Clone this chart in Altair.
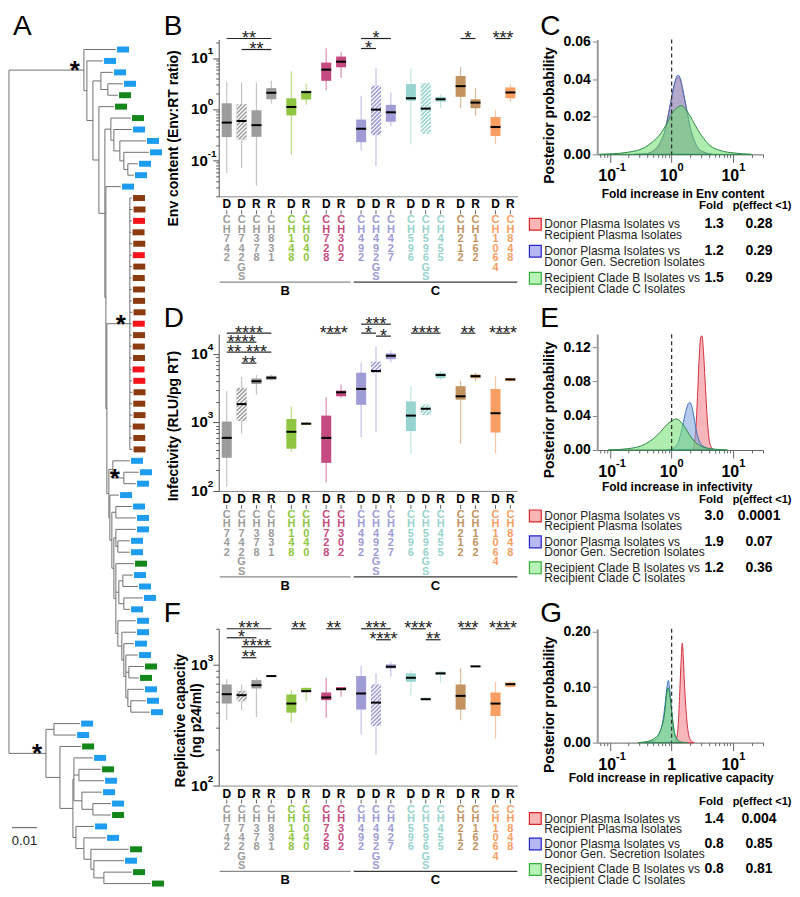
import math
import altair as alt
import pandas as pd

FONT = "Liberation Sans"
ONE = pd.DataFrame({"k": [0]})

# ===================== Panel A : phylogeny (branch lengths in 0.001 subst./site) =====================
def leaf(l, c):
    return {"len": l, "color": c}

def node(l, *kids, star=False):
    return {"len": l, "kids": list(kids), "star": star}

LEAF_CODES = ["b", "g", "n", "r"]
LEAF_COLORS = ["#1e9cf0", "#14871b", "#8c3a10", "#f5141c"]
BROWN_CLADE_COLORS = "nnrnnrnnnnnrnnnrrnnnnnn"
BROWN_TIP_LEN = [0.8, 1.0, 0.8, 0.6, 0.9, 0.7, 0.9, 0.7, 0.8, 0.8, 1.0, 0.7,
                 0.8, 0.7, 0.8, 0.6, 0.9, 1.0, 0.9, 1.0, 0.7, 0.9, 1.0]

CL_7_12 = node(2.4, leaf(8.0, "g"), node(1.2, leaf(7.2, "b"), node(2.4, leaf(10.4, "b"),
               node(1.6, leaf(10.0, "b"), node(1.6, leaf(4.0, "b"), leaf(2.4, "b"))))))
BROWN = node(9.2, *[leaf(l, c) for l, c in zip(BROWN_TIP_LEN, BROWN_CLADE_COLORS)], star=True)
CL_37_39 = node(1.6, leaf(6.8, "b"), node(4.4, leaf(6.0, "b"), leaf(4.8, "b"), star=True))
CL_43_45 = node(0.8, leaf(8.0, "b"), node(0.8, leaf(4.8, "b"), leaf(4.8, "b")))
CL_47_50 = node(1.2, node(1.6, leaf(4.0, "b"), leaf(6.0, "b")), node(2.0, leaf(7.6, "b"), leaf(2.4, "b")))
CL_54_59 = node(0.8, leaf(4.8, "b"), node(1.2, leaf(6.0, "g"), leaf(4.0, "g")),
                node(0.8, leaf(6.4, "b"), node(1.2, leaf(6.0, "b"), leaf(7.6, "b"))))
CL_51_59 = node(0.8, leaf(7.2, "b"), node(1.6, leaf(5.6, "b"), node(0.8, leaf(4.0, "b"), CL_54_59)))
CL_46_59 = node(0.8, leaf(7.2, "g"), CL_47_50, CL_51_59)
CL_43_59 = node(0.8, CL_43_45, CL_46_59)
CL_41_59 = node(0.8, node(1.6, leaf(6.4, "b"), leaf(8.0, "b")), CL_43_59)
CL_40_59 = node(0.4, leaf(3.6, "b"), CL_41_59)
REST = node(0.8, CL_37_39, CL_40_59)
CL_14_59 = node(0.4, BROWN, REST)
CL_13_59 = node(0.4, leaf(6.0, "b"), CL_14_59)
CL_7_59 = node(2.4, CL_7_12, CL_13_59)
CL_6_59 = node(2.4, leaf(6.0, "g"), CL_7_59)
CL_3_5 = node(3.2, leaf(4.8, "b"), node(2.8, leaf(6.0, "b"), leaf(4.0, "g")))
CL_3_59 = node(2.4, CL_3_5, CL_6_59)
CL_2_59 = node(1.2, leaf(6.4, "b"), CL_3_59)
UPPER = node(30.0, leaf(12.8, "b"), CL_2_59, star=True)

CL_60_61 = node(3.2, leaf(10.4, "b"), leaf(8.8, "b"))
CL_63_68 = node(0.4, leaf(7.6, "b"), node(2.0, leaf(8.8, "g"), leaf(10.0, "b")),
                node(3.2, leaf(8.0, "b"), node(4.4, leaf(7.2, "b"), leaf(7.2, "g"))))
CL_69_74 = node(1.2, leaf(7.2, "b"), node(3.2, leaf(8.8, "b"), node(2.8, leaf(15.2, "g"),
                node(1.2, leaf(12.0, "b"), node(4.0, leaf(11.2, "g"), leaf(18.8, "g"))))))
CL_62_74 = node(5.6, leaf(8.4, "g"), node(5.2, CL_63_68, CL_69_74))
LOWER = node(14.8, CL_60_61, CL_62_74, star=True)
TREE = node(0.0, UPPER, LOWER)
SCALE_BAR = 10.0  # = 0.01

# ===================== Panels B, D, F : box plots =====================
BOX_LABELS = ["CH742", "CH742GS", "CH378", "CH831", "CH148", "CH040", "CH728", "CH302",
              "CH492", "CH492GS", "CH427", "CH596", "CH596GS", "CH455", "CH212", "CH162",
              "CH1064", "CH848"]
BOX_ROLES = ["D", "D", "R", "R", "D", "R", "D", "R", "D", "D", "R", "D", "D", "R", "D", "R", "D", "R"]
BOX_GROUP = [0, 0, 0, 0, 1, 1, 2, 2, 3, 3, 3, 4, 4, 4, 5, 5, 6, 6]
BOX_HATCHED = [0, 1, 0, 0, 0, 0, 0, 0, 0, 1, 0, 0, 1, 0, 0, 0, 0, 0]
GROUP_NAMES = ["CH742", "CH148", "CH728", "CH492", "CH596", "CH212", "CH1064"]
GROUP_COLORS = ["#9c9c9c", "#8ec641", "#c64a82", "#9e9bd6", "#98d4cf", "#c2935f", "#f99e62"]
CLADES = ["B", "C"]

ENV_LO = [0.057, 0.071, 0.032, 1.29, 0.13, 1.22, 2.36, 4.07, 0.156, 0.077, 0.47, 0.205, 0.33, 1.05, 1.03, 0.73, 0.21, 1.35]
ENV_Q1 = [0.286, 0.257, 0.29, 1.57, 0.76, 1.55, 3.6, 6.6, 0.228, 0.313, 0.572, 1.46, 0.332, 1.41, 1.75, 1.05, 0.30, 1.64]
ENV_MED = [0.55, 0.59, 0.49, 2.1, 1.11, 2.16, 5.94, 8.5, 0.417, 0.985, 0.873, 1.64, 1.03, 1.57, 2.83, 1.35, 0.45, 2.13]
ENV_Q3 = [1.31, 1.25, 0.955, 2.59, 1.64, 2.3, 8.15, 10.7, 0.63, 2.88, 1.22, 3.1, 3.2, 1.75, 4.46, 1.57, 0.706, 2.67]
ENV_HI = [3.45, 3.35, 3.35, 3.6, 5.5, 3.2, 15.6, 13.0, 1.83, 6.3, 2.13, 6.3, 3.3, 1.97, 6.8, 2.59, 0.955, 3.1]

INF_LO = [115, 690, 2550, 4100, 369, 900, 133, 2280, 616, 720, 7500, 349, 1250, 4130, 491, 4020, 349, 3920]
INF_Q1 = [305, 1050, 3650, 4200, 414, 930, 257, 2410, 1810, 5330, 8400, 747, 1290, 4430, 2150, 4430, 714, 4020]
INF_MED = [596, 1855, 4000, 4500, 731, 960, 596, 2760, 3090, 5650, 9420, 1260, 1585, 4930, 2410, 4750, 1365, 4260]
INF_Q3 = [1030, 3200, 4400, 4800, 1125, 990, 1260, 2920, 5330, 7670, 10200, 2030, 1810, 5330, 3390, 5030, 3090, 4430]
INF_HI = [2860, 4600, 4930, 5000, 1714, 1030, 2330, 3590, 7500, 12800, 11170, 3390, 1900, 5650, 4020, 5330, 4750, 4480]

REP_LO = [348, 422, 371, 800, 333, 501, 364, 545, 264, 180, 800, 562, 505, 717, 348, 965, 245, 653]
REP_Q1 = [479, 501, 639, 805, 403, 600, 511, 619, 427, 312, 938, 726, 510, 828, 427, 968, 378, 659]
REP_MED = [573, 562, 681, 810, 479, 607, 538, 631, 581, 488, 968, 784, 521, 853, 555, 975, 479, 694]
REP_Q3 = [690, 611, 750, 815, 570, 647, 592, 656, 810, 690, 1013, 853, 535, 880, 690, 980, 592, 717]
REP_HI = [764, 690, 784, 820, 619, 647, 784, 659, 987, 853, 1066, 891, 540, 891, 950, 985, 726, 734]

# significance bars: (box i, box j, stars, pixel offset from plot top)
SIG_B = [(0, 3, "**", -1), (1, 3, "**", 10), (8, 10, "*", -1), (8, 9, "*", 9), (14, 15, "*", -1), (16, 17, "***", -1)]
SIG_D = [(0, 3, "****", -1), (0, 2, "****", 8), (0, 1, "**", 18), (1, 3, "***", 18), (1, 2, "**", 29),
         (6, 7, "****", -1), (8, 10, "***", -10), (8, 9, "*", -1), (9, 10, "*", 2), (11, 13, "****", -1),
         (14, 15, "**", -1), (16, 17, "****", -1)]
SIG_F = [(0, 3, "***", 0), (0, 2, "*", 9), (1, 3, "****", 18), (1, 2, "**", 29), (4, 5, "**", 0), (6, 7, "**", 0),
         (8, 10, "***", 0), (9, 10, "****", 11), (11, 12, "****", 0), (12, 13, "**", 11), (14, 15, "***", 0),
         (16, 17, "****", 0)]

# ===================== Panels C, E, G : posterior densities =====================
C_RED_X = [0.259, 0.376, 0.513, 0.656, 0.791, 0.895, 1.01, 1.146, 1.265, 1.38, 1.563, 1.767, 2.0, 2.264, 2.725, 3.49, 4.47]
C_RED_Y = [0, 0.0003, 0.0021, 0.0064, 0.0134, 0.0221, 0.0308, 0.0386, 0.0412, 0.0395, 0.0317, 0.0230, 0.0143, 0.0082, 0.0030, 0.0009, 0]
C_BLUE_X = [0.26, 0.38, 0.52, 0.66, 0.79, 0.90, 1.01, 1.15, 1.27, 1.39, 1.57, 1.77, 2.0, 2.27, 2.72, 3.5, 4.5]
C_BLUE_Y = [0, 0.0003, 0.0020, 0.0062, 0.0132, 0.0222, 0.0312, 0.0394, 0.0421, 0.0402, 0.0320, 0.0232, 0.0145, 0.0084, 0.0031, 0.0009, 0]
C_GREEN_X = [0.0665, 0.109, 0.202, 0.332, 0.482, 0.656, 0.841, 1.01, 1.219, 1.432, 1.661, 2.0, 2.41, 3.08, 4.2, 6.1, 10.6, 19.8]
C_GREEN_Y = [0, 0.0003, 0.0012, 0.003, 0.0064, 0.0108, 0.0165, 0.0217, 0.0247, 0.0259, 0.0242, 0.0203, 0.0155, 0.0099, 0.0047, 0.0021, 0.0007, 0]

E_RED_X = [2.18, 2.32, 2.47, 2.63, 2.79, 2.97, 3.12, 3.28, 3.49, 3.71, 3.95, 4.31, 4.88]
E_RED_Y = [0, 0.0065, 0.024, 0.062, 0.105, 0.1315, 0.133, 0.116, 0.0815, 0.047, 0.02, 0.0046, 0]
E_BLUE_X = [0.862, 1.104, 1.33, 1.504, 1.70, 1.858, 1.976, 2.128, 2.32, 2.56, 2.90, 3.58, 4.88]
E_BLUE_Y = [0, 0.0027, 0.0123, 0.0277, 0.045, 0.0538, 0.0554, 0.0508, 0.0373, 0.02, 0.0085, 0.0027, 0]
E_GREEN_X = [0.0929, 0.195, 0.362, 0.525, 0.673, 0.862, 1.038, 1.175, 1.38, 1.60, 1.93, 2.32, 2.97, 4.31, 8.0]
E_GREEN_Y = [0, 0.0015, 0.0065, 0.0142, 0.0219, 0.0304, 0.0346, 0.0362, 0.0335, 0.0277, 0.0181, 0.0104, 0.0046, 0.0015, 0]

G_RED_X = [1.104, 1.219, 1.297, 1.362, 1.432, 1.486, 1.542, 1.621, 1.725, 1.856, 2.05, 2.32]
G_RED_Y = [0, 0.010, 0.043, 0.097, 0.151, 0.179, 0.157, 0.103, 0.055, 0.019, 0.004, 0]
G_BLUE_X = [0.362, 0.525, 0.632, 0.716, 0.780, 0.841, 0.883, 0.929, 0.975, 1.038, 1.104, 1.25, 1.415]
G_BLUE_Y = [0, 0.004, 0.016, 0.037, 0.067, 0.1, 0.112, 0.097, 0.070, 0.037, 0.016, 0.004, 0]
G_GREEN_X = [0.283, 0.41, 0.559, 0.673, 0.762, 0.82, 0.873, 0.929, 1.0, 1.077, 1.175, 1.415, 1.81]
G_GREEN_Y = [0, 0.0024, 0.010, 0.025, 0.049, 0.082, 0.0988, 0.088, 0.058, 0.028, 0.010, 0.0012, 0]

VLINE = [1.0]
LEG_TEXT = [["Donor Plasma Isolates vs", "Recipient Plasma Isolates"],
            ["Donor Plasma Isolates vs", "Donor Gen. Secretion Isolates"],
            ["Recipient Clade B Isolates vs", "Recipient Clade C Isolates"]]
FOLD_C, P_C = ["1.3", "1.2", "1.5"], ["0.28", "0.29", "0.29"]
FOLD_E, P_E = ["3.0", "1.9", "1.2"], ["0.0001", "0.07", "0.36"]
FOLD_G, P_G = ["1.4", "0.8", "0.8"], ["0.004", "0.85", "0.81"]

# ===================== styling / layout =====================
SERIES = ["red", "blue", "green"]
FILL = {"red": "#f07a84", "blue": "#7a9fdc", "green": "#6cde6c"}
STROKE = {"red": "#d42f3d", "blue": "#3c74c2", "green": "#2b8a48"}
LEG_FILL = {"red": "#f9b6b6", "blue": "#b7b7f2", "green": "#b7f2b7"}
LEG_STROKE = {"red": "#e02424", "blue": "#2424c8", "green": "#34b034"}

BOX_W, BOX_H = 299, 157
DENS_W = 166
GROUP_GAP = 1.35
TREE_W = 130
COL_GAP = 80
ROW_GAP = 138
LEAF_PX = 11.44
PX_PER_UNIT = 2.5
LETTER_Y1 = -27
MAJOR_TEST = "abs(log(datum.value)/LN10 - round(log(datum.value)/LN10)) < 0.001"


def slot_positions():
    pos, out, prev = 0.0, [], None
    for g in BOX_GROUP:
        if prev is not None:
            pos += 1.0 if g == prev else GROUP_GAP
        out.append(pos)
        prev = g
    return out


SLOTS = slot_positions()
X_DOM = [SLOTS[0] - 0.54, SLOTS[-1] + 0.47]
PXU = BOX_W / (X_DOM[1] - X_DOM[0])
HALF_PX = 5.0
HW = HALF_PX / PXU


def txt(text, x, y, size, weight="normal", align="center", baseline="middle", color="#111", angle=None, lh=None):
    kw = dict(text=text, font=FONT, fontSize=size, fontWeight=weight, align=align, baseline=baseline, color=color)
    if angle is not None:
        kw["angle"] = angle
    if lh is not None:
        kw["lineHeight"] = lh
    return alt.Chart(ONE).mark_text(**kw).encode(x=alt.value(x), y=alt.value(y))


def log_ticks(lo, hi):
    majors, minors = [], []
    for e in range(math.floor(math.log10(lo)), math.ceil(math.log10(hi)) + 1):
        for m in range(1, 10):
            v = float(f"{m}e{e}")
            if lo * 0.999 <= v <= hi * 1.001:
                (majors if m == 1 else minors).append(v)
    return majors, minors


def hatch_lines(slot, q1v, q3v, dec_px):
    H = (math.log10(q3v) - math.log10(q1v)) * dec_px
    W = 2 * HALF_PX
    out = []
    c = -W + 2.0
    while c < H:
        x0 = max(0.0, -c)
        x1 = min(W, H - c)
        if x1 - x0 > 0.5:
            out.append({"x": slot + (x0 - W / 2) / PXU, "x2": slot + (x1 - W / 2) / PXU,
                        "y": q1v * 10 ** ((x0 + c) / dec_px), "y2": q1v * 10 ** ((x1 + c) / dec_px)})
        c += 4.0
    return out


def tree_panel():
    hs, vs, lv, st = [], [], [], []
    counter = [0]

    def walk(nd, px):
        x = px + nd["len"]
        if "color" in nd:
            y = float(counter[0])
            counter[0] += 1
            lv.append({"x": x, "y": y, "c": nd["color"]})
        else:
            ys = [walk(k, x) for k in nd["kids"]]
            y = (ys[0] + ys[-1]) / 2
            vs.append({"x": x, "y": ys[0], "y2": ys[-1]})
            if nd.get("star"):
                st.append({"x": x, "y": y})
        if nd["len"] > 0:
            hs.append({"x": px, "x2": x, "y": y})
        return y

    walk(TREE, 0.0)
    # the tree is taller than its grid cell: the scale keeps 11.44 px per leaf and marks overflow downward
    xs = alt.Scale(domain=[0, TREE_W / PX_PER_UNIT], nice=False, zero=False)
    y0 = -10.0 / LEAF_PX
    ys = alt.Scale(domain=[y0, y0 + BOX_H / LEAF_PX], reverse=True, nice=False, zero=False)
    X = lambda f: alt.X(f, type="quantitative", scale=xs, axis=None)
    Y = lambda f: alt.Y(f, type="quantitative", scale=ys, axis=None)
    layers = [
        alt.Chart(pd.DataFrame(hs)).mark_rule(color="#707070", strokeWidth=1).encode(x=X("x"), x2="x2", y=Y("y")),
        alt.Chart(pd.DataFrame(vs)).mark_rule(color="#707070", strokeWidth=1).encode(x=X("x"), y=Y("y"), y2="y2"),
        alt.Chart(pd.DataFrame(lv)).mark_point(shape="M0.2,-0.5L2.2,-0.5L2.2,0.5L0.2,0.5Z", size=144, filled=True,
                                               opacity=1, strokeWidth=0).encode(
            x=X("x"), y=Y("y"),
            color=alt.Color("c:N", scale=alt.Scale(domain=LEAF_CODES, range=LEAF_COLORS), legend=None)),
        alt.Chart(pd.DataFrame(st)).mark_text(text="*", font=FONT, fontSize=26, fontWeight="bold", dx=-9, dy=1,
                                              color="black").encode(x=X("x"), y=Y("y")),
        alt.Chart(pd.DataFrame({"x": [1.2], "x2": [1.2 + SCALE_BAR], "y": [68.1]})).mark_rule(
            color="#777", strokeWidth=1.3).encode(x=X("x"), x2="x2", y=Y("y")),
        alt.Chart(pd.DataFrame({"x": [1.2 + SCALE_BAR / 2], "y": [69.3]})).mark_text(
            text="0.01", font=FONT, fontSize=13, color="#222").encode(x=X("x"), y=Y("y")),
        txt("A", 4, LETTER_Y1, 28, align="left", baseline="top", color="black"),
    ]
    return alt.layer(*layers).properties(width=TREE_W, height=BOX_H)


def box_panel(lo, q1, med, q3, hi, domain, sig, title_lines, title_x, title_y, letter, letter_y):
    df = pd.DataFrame({"slot": SLOTS, "grp": [GROUP_NAMES[g] for g in BOX_GROUP], "role": BOX_ROLES,
                       "lab": ["\n".join(s) for s in BOX_LABELS],
                       "lo": lo, "q1": q1, "med": med, "q3": q3, "hi": hi})
    majors, minors = log_ticks(*domain)
    ys = alt.Scale(type="log", domain=domain, nice=False)
    yax = alt.Axis(values=majors + minors, labels=False, title=None, grid=False,
                   tickSize={"condition": {"test": MAJOR_TEST, "value": 6}, "value": 3},
                   tickColor="#555", domainColor="#555", tickWidth=1)
    xs = alt.Scale(domain=X_DOM, nice=False, zero=False)
    xax = alt.Axis(labels=False, ticks=False, title=None, grid=False, domainColor="#888")
    X = lambda f: alt.X(f, type="quantitative", scale=xs, axis=xax)
    Y = lambda f: alt.Y(f, type="quantitative", scale=ys, axis=yax)
    col = alt.Color("grp:N", scale=alt.Scale(domain=GROUP_NAMES, range=GROUP_COLORS), legend=None)
    base = alt.Chart(df)
    calc = base.transform_calculate(xl=f"datum.slot - {HW}", xr=f"datum.slot + {HW}")
    dec_px = BOX_H / (math.log10(domain[1]) - math.log10(domain[0]))
    hrows = []
    for k in range(len(lo)):
        if BOX_HATCHED[k]:
            hrows += hatch_lines(SLOTS[k], q1[k], q3[k], dec_px)
    layers = [
        base.mark_rule(strokeWidth=1.2, opacity=0.6).encode(x=X("slot"), y=Y("lo"), y2="hi", color=col),
        calc.mark_rect().encode(x=X("xl"), x2="xr", y=Y("q1"), y2="q3", color=col),
        alt.Chart(pd.DataFrame(hrows)).mark_rule(color="white", strokeWidth=1.3).encode(
            x=X("x"), x2="x2", y=Y("y"), y2="y2"),
        calc.mark_rule(color="black", strokeWidth=2).encode(x=X("xl"), x2="xr", y=Y("med")),
        base.mark_text(font=FONT, fontSize=12, fontWeight="bold", baseline="top", color="black").encode(
            x=X("slot"), y=alt.value(BOX_H + 3), text="role:N"),
        base.mark_rule(color="#666", strokeWidth=1).encode(x=X("slot"), y=alt.value(BOX_H + 14),
                                                           y2=alt.value(BOX_H + 18)),
        base.mark_text(font=FONT, fontSize=11, fontWeight="bold", baseline="top", lineBreak="\n",
                       lineHeight=9.5).encode(x=X("slot"), y=alt.value(BOX_H + 18), text="lab:N", color=col),
    ]
    spans = [(SLOTS[0] - 0.47, SLOTS[7] + 0.64, "#8a8a8a"), (SLOTS[8] - 0.5, X_DOM[1], "#3a3a3a")]
    for name, (a, b, c) in zip(CLADES, spans):
        d = alt.Chart(pd.DataFrame({"x": [a], "x2": [b], "m": [(a + b) / 2], "t": [name]}))
        layers.append(d.mark_rule(color=c, strokeWidth=1.2).encode(x=X("x"), x2="x2", y=alt.value(BOX_H + 86)))
        layers.append(d.mark_text(font=FONT, fontSize=13, fontWeight="bold", baseline="top", color="black").encode(
            x=X("m"), y=alt.value(BOX_H + 89), text="t:N"))
    for off in sorted(set(s[3] for s in sig)):
        rows = [{"x": SLOTS[i], "x2": SLOTS[j], "m": (SLOTS[i] + SLOTS[j]) / 2, "t": t} for i, j, t, o in sig if o == off]
        d = alt.Chart(pd.DataFrame(rows))
        layers.append(d.mark_rule(color="#222", strokeWidth=1.2).encode(x=X("x"), x2="x2", y=alt.value(off)))
        layers.append(d.mark_text(font=FONT, fontSize=18, color="#222", baseline="alphabetic").encode(
            x=X("m"), y=alt.value(off + 5.5), text="t:N"))
    lab_df = pd.DataFrame({"v": majors, "b": ["10"] * len(majors),
                           "e": [str(int(round(math.log10(v)))) for v in majors]})
    layers.append(alt.Chart(lab_df).mark_text(font=FONT, fontSize=15, fontWeight="bold", align="right",
                                              baseline="middle", color="black").encode(
        x=alt.value(-11), y=Y("v"), text="b:N"))
    layers.append(alt.Chart(lab_df).mark_text(font=FONT, fontSize=10, fontWeight="bold", align="left",
                                              baseline="middle", dy=-7, color="black").encode(
        x=alt.value(-11), y=Y("v"), text="e:N"))
    layers.append(txt(title_lines, title_x, title_y, 14, weight="bold", angle=270, lh=16, color="black"))
    layers.append(txt(letter, -55, letter_y, 28, align="left", baseline="top", color="black"))
    return alt.layer(*layers).properties(width=BOX_W, height=BOX_H)


def dens_panel(curves, ydom, yticks, h, xlabels, xtitle, xt_x, xt_y, folds, ps, head_y, row0, pitch, letter, letter_y):
    xs = alt.Scale(type="log", domain=[0.062, 30.5], nice=False)
    majors, minors = log_ticks(0.062, 30.5)
    xax = alt.Axis(values=majors + minors, labels=False, title=None, grid=False,
                   tickSize={"condition": {"test": MAJOR_TEST, "value": 8}, "value": 3},
                   tickColor="#666", domainColor="#666")
    ys = alt.Scale(domain=ydom, nice=False, zero=True)
    yax = alt.Axis(values=yticks, format=".2f", labelFont=FONT, labelFontSize=14, labelFontWeight="bold",
                   labelColor="black", tickSize=5, tickColor="#888", domainColor="#999", domainWidth=2,
                   title=None, grid=False, labelPadding=2)
    X = lambda f: alt.X(f, type="quantitative", scale=xs, axis=xax)
    Y = lambda f: alt.Y(f, type="quantitative", scale=ys, axis=yax)
    layers = []
    for s in SERIES:
        cx, cy = curves[s]
        layers.append(alt.Chart(pd.DataFrame({"x": cx, "y": cy})).mark_area(
            interpolate="monotone", fill=FILL[s], fillOpacity=0.55, stroke=STROKE[s], strokeWidth=1).encode(
            x=X("x"), y=Y("y")))
    layers.append(alt.Chart(pd.DataFrame({"x": VLINE})).mark_rule(strokeDash=[4, 3], color="#333",
                                                                  strokeWidth=1.3).encode(x=X("x")))
    with_exp = pd.DataFrame([{"v": v, "b": b, "e": e} for v, b, e in xlabels if e])
    plain = [{"v": v, "b": b} for v, b, e in xlabels if not e]
    layers.append(alt.Chart(with_exp).mark_text(font=FONT, fontSize=16, fontWeight="bold", align="right",
                                                baseline="middle", dx=6, color="black").encode(
        x=X("v"), y=alt.value(h + 22), text="b:N"))
    layers.append(alt.Chart(with_exp).mark_text(font=FONT, fontSize=11, fontWeight="bold", align="left",
                                                baseline="middle", dx=6, color="black").encode(
        x=X("v"), y=alt.value(h + 14), text="e:N"))
    if plain:
        layers.append(alt.Chart(pd.DataFrame(plain)).mark_text(font=FONT, fontSize=16, fontWeight="bold",
                                                               baseline="middle", color="black").encode(
            x=X("v"), y=alt.value(h + 22), text="b:N"))
    layers.append(txt(xtitle, xt_x, xt_y, 12, weight="bold", color="black"))
    layers.append(txt("Posterior probability", -47, 76, 14, weight="bold", angle=270, color="black"))
    layers.append(txt("Fold", 114, head_y, 11.5, weight="bold", color="black"))
    layers.append(txt("p(effect <1)", 165, head_y, 11, weight="bold", color="black"))
    for k, s in enumerate(SERIES):
        ry = row0 + k * pitch
        layers.append(alt.Chart(ONE).mark_square(size=140, fill=LEG_FILL[s], stroke=LEG_STROKE[s], strokeWidth=1.2,
                                                 opacity=1).encode(x=alt.value(-62), y=alt.value(ry)))
        layers.append(txt(LEG_TEXT[k], -53, ry, 12, align="left", lh=10.5, color="#222"))
        layers.append(txt(folds[k], 117, ry, 14, weight="bold", color="black"))
        layers.append(txt(ps[k], 162, ry, 14, weight="bold", color="black"))
    layers.append(txt(letter, -57, letter_y, 28, align="left", baseline="top", color="black"))
    return alt.layer(*layers).properties(width=DENS_W, height=h)


XL_STD = [(0.1, "10", "-1"), (1.0, "10", "0"), (10.0, "10", "1")]
XL_G = [(0.1, "10", "-1"), (1.0, "1", ""), (10.0, "10", "1")]

B = box_panel(ENV_LO, ENV_Q1, ENV_MED, ENV_Q3, ENV_HI, [0.02, 23], SIG_B,
              ["Env content (Env:RT ratio)"], -45, 99, "B", LETTER_Y1)
D = box_panel(INF_LO, INF_Q1, INF_MED, INF_Q3, INF_HI, [100, 19500], SIG_D,
              ["Infectivity (RLU/pg RT)"], -45, 92, "D", -29)
F = box_panel(REP_LO, REP_Q1, REP_MED, REP_Q3, REP_HI, [100, 2000], SIG_F,
              ["Replicative capacity", "(ng p24/ml)"], -38, 92, "F", -29)

C = dens_panel({"red": (C_RED_X, C_RED_Y), "blue": (C_BLUE_X, C_BLUE_Y), "green": (C_GREEN_X, C_GREEN_Y)},
               [0, 0.061], [0, 0.02, 0.04, 0.06], 115, XL_STD, "Fold increase in Env content", 86, 155,
               FOLD_C, P_C, 167, 185, 27, "C", LETTER_Y1)
E = dens_panel({"red": (E_RED_X, E_RED_Y), "blue": (E_BLUE_X, E_BLUE_Y), "green": (E_GREEN_X, E_GREEN_Y)},
               [0, 0.135], [0, 0.04, 0.08, 0.12], 116, XL_STD, "Fold increase in infectivity", 80, 153,
               FOLD_E, P_E, 166, 182, 26, "E", -29)
G = dens_panel({"red": (G_RED_X, G_RED_Y), "blue": (G_BLUE_X, G_BLUE_Y), "green": (G_GREEN_X, G_GREEN_Y)},
               [0, 0.205], [0, 0.1, 0.2], 114, XL_G, "Fold increase in replicative capacity", 74, 149,
               FOLD_G, P_G, 173, 190, 25.5, "G", -29)


def blank():
    return alt.Chart(ONE).mark_text(text="").encode(x=alt.value(0), y=alt.value(0)).properties(
        width=TREE_W, height=BOX_H)


chart = alt.ConcatChart(
    concat=[tree_panel(), B, C, blank(), D, E, blank(), F, G],
    columns=3, spacing={"row": ROW_GAP, "column": COL_GAP}, bounds="flush",
).resolve_scale(color="independent").properties(
    padding={"top": 4, "left": 0, "right": 0, "bottom": 0}
).configure(font=FONT).configure_view(stroke=None)

chart.save("out.html", embed_options={"renderer": "svg", "actions": False})
